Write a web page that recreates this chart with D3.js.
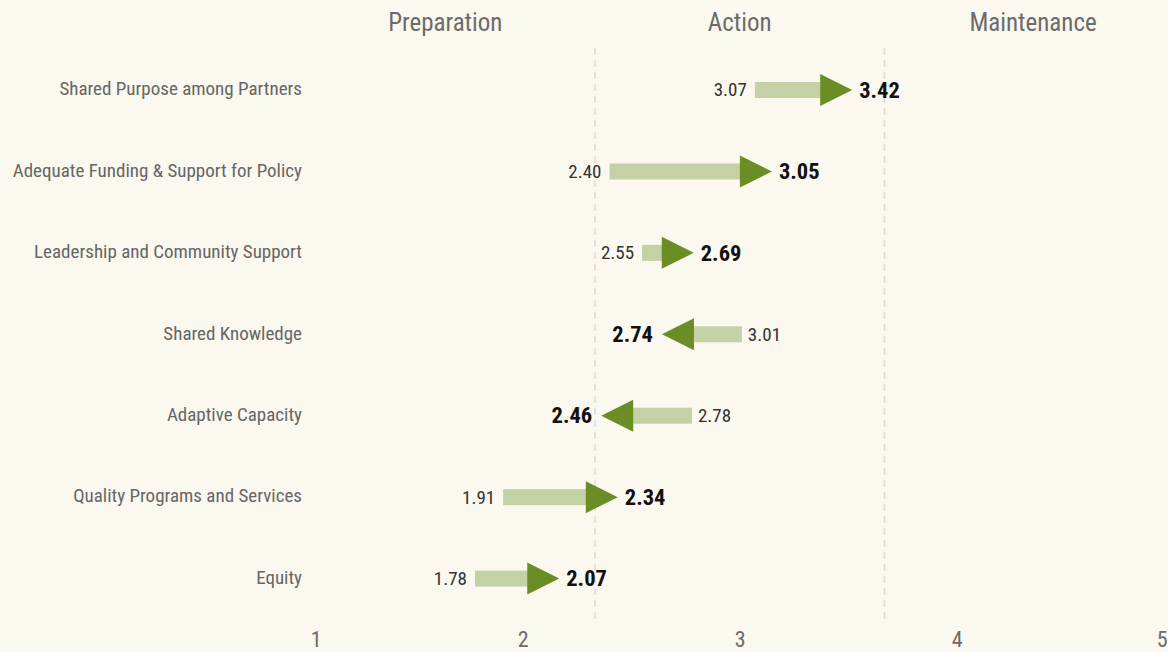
<!DOCTYPE html>
<html><head><meta charset="utf-8">
<script src="https://cdn.jsdelivr.net/npm/d3@7"></script>
<style>
html,body{margin:0;padding:0;background:#fbf8ef;}
svg{display:block;font-family:"Roboto Condensed","Roboto",sans-serif;font-stretch:condensed;}
</style></head>
<body>
<svg id="c" width="1168" height="652"></svg>
<script>
const categories = ["Shared Purpose among Partners","Adequate Funding & Support for Policy","Leadership and Community Support","Shared Knowledge","Adaptive Capacity","Quality Programs and Services","Equity"];
const startValues = [3.07, 2.40, 2.55, 3.01, 2.78, 1.91, 1.78];
const endValues   = [3.42, 3.05, 2.69, 2.74, 2.46, 2.34, 2.07];
const stageNames = ["Preparation","Action","Maintenance"];
const stageBounds = [1, 2.333, 3.667, 5];
const tickValues = [1,2,3,4,5];

const W=1168,H=652;
const svg=d3.select("#c");
const x=d3.scaleLinear().domain([1,5]).range([305.7,1173.7]);
const y=d3.scaleBand().domain(categories).range([49.3,619.3]);
const cy=d=>y(d)+y.bandwidth()/2;

// stage dividers
svg.selectAll("line.div").data(stageBounds.slice(1,3)).join("line")
  .attr("x1",d=>x(d)).attr("x2",d=>x(d)).attr("y1",48).attr("y2",619)
  .attr("stroke","#dedbd4").attr("stroke-width",1.5).attr("stroke-dasharray","7,5");

// stage labels
svg.selectAll("text.stage").data(stageNames).join("text")
  .attr("x",(d,i)=>x((stageBounds[i]+stageBounds[i+1])/2)+(i===0?-5:(i===2?4:0)))
  .attr("y",31).attr("text-anchor","middle").attr("font-size",25).attr("fill","#6b6b6b").text(d=>d);

// x axis
const ax=svg.append("g").attr("transform","translate(0,626)").call(d3.axisBottom(x).tickValues(tickValues).tickSize(0).tickFormat(d3.format("d")));
ax.select(".domain").remove();
ax.selectAll("text").attr("font-size",22).attr("fill","#6b6b6b").attr("dy","0.8em")
  .attr("font-family","'Roboto Condensed','Roboto',sans-serif")
  .attr("dx",d=>d===1?10:(d===5?-12:0));

// y labels
svg.selectAll("text.cat").data(categories).join("text")
  .attr("x",302).attr("y",d=>cy(d)).attr("dy","0.28em").attr("text-anchor","end")
  .attr("font-size",19).attr("fill","#666").text(d=>d);

const rows=categories.map((c,i)=>({c,s:startValues[i],e:endValues[i]}));
const g=svg.append("g");
// bars
g.selectAll("rect.bar").data(rows).join("rect")
  .attr("x",d=>Math.min(x(d.s),x(d.e))).attr("width",d=>Math.abs(x(d.e)-x(d.s)))
  .attr("y",d=>cy(d.c)-8).attr("height",16).attr("fill","#c3d1a4");
// triangles
const L=32,Hh=16;
g.selectAll("path.head").data(rows).join("path")
  .attr("d",d=>{const dir=d.e>=d.s?1:-1;const cx=x(d.e),yy=cy(d.c);
    const b=cx-dir*L/3, t=cx+dir*2*L/3;
    return `M${b},${yy-Hh}L${t},${yy}L${b},${yy+Hh}Z`;})
  .attr("fill","#6a8e25");
// start labels
g.selectAll("text.s").data(rows).join("text")
  .attr("x",d=>d.e>=d.s?x(d.s)-8:x(d.s)+6).attr("y",d=>cy(d.c)).attr("dy","0.34em")
  .attr("text-anchor",d=>d.e>=d.s?"end":"start").attr("font-size",19).attr("fill","#333")
  .text(d=>d.s.toFixed(2));
// end labels
g.selectAll("text.e").data(rows).join("text")
  .attr("x",d=>d.e>=d.s?x(d.e)+2*L/3+7:x(d.e)-2*L/3-9).attr("y",d=>cy(d.c)).attr("dy","0.34em")
  .attr("text-anchor",d=>d.e>=d.s?"start":"end").attr("font-size",22.5).attr("font-weight","bold").attr("fill","#111")
  .text(d=>d.e.toFixed(2));
</script>
</body></html>
